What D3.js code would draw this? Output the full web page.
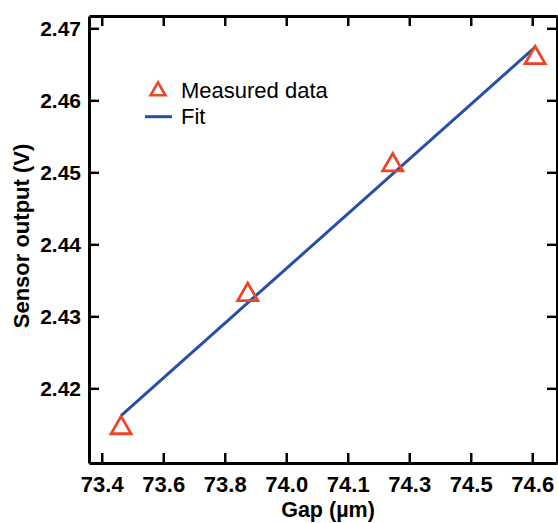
<!DOCTYPE html>
<html>
    <head>
        <meta charset="utf-8">
        <style>
            html, body {
                margin: 0px;
                padding: 0px;
                background-color: #fff;
            }
            svg text {
                font-family: "Liberation Sans", Arial, sans-serif;
                fill: #000;
            }
            .axis .domain {
                stroke: #000;
                stroke-width: 3px;
            }
            .axis line {
                stroke: #000;
                stroke-width: 2.5px;
            }
            .axis text {
                font-weight: bold;
            }
        </style>
        <script src="https://cdn.jsdelivr.net/npm/d3@7"></script>
    </head>
    <body>
        <div id="main"></div>
        <script>
            // data
            var gap = [73.454, 73.807, 74.211, 74.608];
            var output = [2.4145, 2.4330, 2.4510, 2.4659];
            var fitGap = [73.454, 74.608];
            var fitOutput = [2.4162, 2.4674];
            var xTickLabels = ["73.4", "73.6", "73.8", "74.0", "74.1", "74.3", "74.5", "74.6"];
            var xTickStart = 73.4, xTickStep = 1.2 / 7;
            var yTicks = [2.42, 2.43, 2.44, 2.45, 2.46, 2.47];

            var width = 558, height = 523;
            var plotLeft = 89, plotRight = 557, plotTop = 16, plotBottom = 463;
            var red = "#ec4628", blue = "#2450a8";

            var svg = d3.select("#main").append("svg")
                .attr("width", width)
                .attr("height", height);

            var x = d3.scaleLinear().domain([73.3645, 74.669]).range([plotLeft, plotRight]);
            var y = d3.scaleLinear().domain([2.40963, 2.47171]).range([plotBottom, plotTop]);

            var xTicks = xTickLabels.map(function(d, i) { return xTickStart + i * xTickStep; });

            svg.append("g")
                .attr("class", "axis")
                .attr("transform", "translate(0," + plotBottom + ")")
                .call(d3.axisBottom(x).tickValues(xTicks).tickSizeInner(-10).tickSizeOuter(0).tickPadding(13)
                    .tickFormat(function(d, i) { return xTickLabels[i]; }))
                .call(function(g) { g.selectAll("text").style("font-size", "22px"); });

            svg.append("g")
                .attr("class", "axis")
                .attr("transform", "translate(0," + plotTop + ")")
                .call(d3.axisTop(x).tickValues(xTicks).tickSizeInner(-10).tickSizeOuter(0).tickFormat(""));

            svg.append("g")
                .attr("class", "axis")
                .attr("transform", "translate(" + plotLeft + ",0)")
                .call(d3.axisLeft(y).tickValues(yTicks).tickSizeInner(-10).tickSizeOuter(0).tickPadding(8)
                    .tickFormat(d3.format(".2f")))
                .call(function(g) { g.selectAll("text").style("font-size", "21px"); });

            svg.append("g")
                .attr("class", "axis")
                .attr("transform", "translate(" + plotRight + ",0)")
                .call(d3.axisRight(y).tickValues(yTicks).tickSizeInner(-10).tickSizeOuter(0).tickFormat(""));

            // fit line
            var line = d3.line()
                .x(function(d, i) { return x(fitGap[i]); })
                .y(function(d) { return y(d); });

            svg.append("path")
                .attr("d", line(fitOutput))
                .attr("fill", "none")
                .attr("stroke", blue)
                .attr("stroke-width", 3);

            // measured points
            var tri = d3.symbol().type(d3.symbolTriangle).size(175);
            svg.selectAll(".pt")
                .data(output)
                .enter()
                .append("path")
                .attr("class", "pt")
                .attr("d", tri)
                .attr("transform", function(d, i) { return "translate(" + x(gap[i]) + "," + y(d) + ")"; })
                .attr("fill", "none")
                .attr("stroke", red)
                .attr("stroke-width", 2.8);

            // legend
            var legend = svg.append("g");
            legend.append("path")
                .attr("d", d3.symbol().type(d3.symbolTriangle).size(95)())
                .attr("transform", "translate(158,91)")
                .attr("fill", "none")
                .attr("stroke", red)
                .attr("stroke-width", 2.6);
            legend.append("text")
                .attr("x", 181)
                .attr("y", 98)
                .style("font-size", "22px")
                .text("Measured data");
            legend.append("line")
                .attr("x1", 145).attr("x2", 172)
                .attr("y1", 116.7).attr("y2", 116.7)
                .attr("stroke", blue)
                .attr("stroke-width", 3);
            legend.append("text")
                .attr("x", 181)
                .attr("y", 124)
                .style("font-size", "22px")
                .text("Fit");

            // axis titles
            svg.append("text")
                .attr("x", 328)
                .attr("y", 517)
                .style("text-anchor", "middle")
                .style("font-weight", "bold")
                .style("font-size", "21.5px")
                .text("Gap (\u00b5m)");

            svg.append("text")
                .attr("transform", "translate(29,236) rotate(-90)")
                .style("text-anchor", "middle")
                .style("font-weight", "bold")
                .style("font-size", "22px")
                .text("Sensor output (V)");
        </script>
    </body>
</html>
